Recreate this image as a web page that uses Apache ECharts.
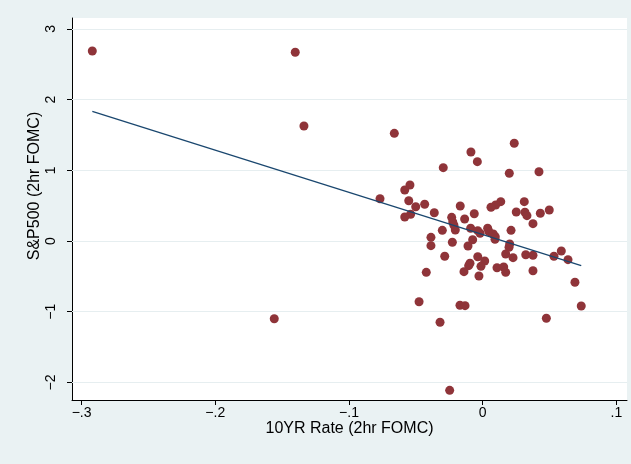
<!DOCTYPE html>
<html>
<head>
<meta charset="utf-8">
<script src="https://cdn.jsdelivr.net/npm/echarts@6/dist/echarts.min.js"></script>
<style>html,body{margin:0;padding:0;background:#EAF2F3;}#c{width:631px;height:464px;}</style>
</head>
<body>
<div id="c"></div>
<script>
// Data
var rateX = [-0.0661,0.0236,-0.0088,-0.0040,-0.0295,0.0199,0.0421,-0.0544,-0.0583,-0.0768,
-0.0553,-0.0434,-0.0501,-0.0168,0.0135,0.0097,0.0062,0.0311,0.0498,0.0431,
0.0251,0.0316,0.0331,-0.0539,-0.0583,-0.0362,-0.0063,-0.0232,-0.0135,-0.0224,
-0.0215,-0.0205,-0.0302,-0.0090,-0.0037,-0.0020,0.0037,0.0047,0.0079,0.0094,
0.0092,0.0212,0.0376,-0.0075,-0.0110,-0.0227,-0.0387,-0.0387,0.0202,0.0197,
0.0172,0.0227,-0.0037,-0.0284,0.0322,0.0376,0.0533,0.0588,0.0638,0.0015,
-0.0095,-0.0105,-0.0013,0.0107,0.0157,0.0172,-0.0140,-0.0028,-0.0422,0.0376,
0.0690,-0.0476,-0.0170,-0.0132,0.0737,-0.0319,0.0476,-0.0247,-0.2920,-0.1402,
-0.1337,-0.1559];
var spY = [1.523,1.382,1.259,1.122,1.037,0.958,0.980,0.792,0.721,0.598,
0.570,0.519,0.485,0.495,0.556,0.509,0.477,0.556,0.438,0.392,
0.410,0.406,0.358,0.378,0.339,0.400,0.386,0.335,0.311,0.269,
0.222,0.156,0.151,0.180,0.146,0.109,0.180,0.132,0.099,0.061,
0.024,0.151,0.245,0.018,-0.071,-0.018,0.052,-0.066,-0.042,-0.089,
-0.184,-0.236,-0.222,-0.216,-0.194,-0.202,-0.216,-0.141,-0.264,-0.283,
-0.315,-0.349,-0.358,-0.378,-0.368,-0.443,-0.434,-0.495,-0.443,-0.420,
-0.584,-0.859,-0.909,-0.915,-0.919,-1.150,-1.093,-2.112,2.687,2.669,
1.627,-1.099];
var fitX = [-0.2920, 0.0737];
var fitY = [1.834, -0.349];
var xTicks = [-0.3, -0.2, -0.1, 0, 0.1];
var xTickLabels = ['\u2212.3', '\u2212.2', '\u2212.1', '0', '.1'];
var yTicks = [-2, -1, 0, 1, 2, 3];
var yTickLabels = ['\u22122', '\u22121', '0', '1', '2', '3'];

var pts = rateX.map(function (x, i) { return [x, spY[i]]; });
var fitPts = fitX.map(function (x, i) { return [x, fitY[i]]; });

function lookup(vals, labels) {
  return function (v) {
    for (var i = 0; i < vals.length; i++) { if (Math.abs(vals[i] - v) < 1e-9) return labels[i]; }
    return '';
  };
}

var font = 'Liberation Sans, Arial, sans-serif';
var chart = echarts.init(document.getElementById('c'), null, { renderer: 'canvas' });
chart.setOption({
  backgroundColor: '#EAF2F3',
  animation: false,
  grid: { left: 72, right: 4, top: 18, bottom: 64, show: true, backgroundColor: '#FFFFFF', borderWidth: 0 },
  xAxis: {
    type: 'value', min: -0.30718, max: 0.10793,
    name: '10YR Rate (2hr FOMC)', nameLocation: 'middle', nameGap: 21, nameMoveOverlap: false,
    nameTextStyle: { fontFamily: font, fontSize: 16, color: '#000', verticalAlign: 'top' },
    axisLine: { show: true, onZero: false, lineStyle: { color: '#000', width: 1 } },
    axisTick: { show: true, customValues: xTicks, length: 5, lineStyle: { color: '#000' } },
    axisLabel: { customValues: xTicks, formatter: lookup(xTicks, xTickLabels), fontFamily: font, fontSize: 14, color: '#000', margin: 6 },
    splitLine: { show: false }
  },
  yAxis: {
    type: 'value', min: -2.2489, max: 3.1541,
    name: 'S&P500 (2hr FOMC)', nameLocation: 'middle', nameGap: 29, nameRotate: 90, nameMoveOverlap: false,
    nameTextStyle: { fontFamily: font, fontSize: 16, color: '#000', padding: [0, 0, 0, 46] },
    axisLine: { show: true, onZero: false, lineStyle: { color: '#000', width: 1 } },
    axisTick: { show: true, customValues: yTicks, length: 5, lineStyle: { color: '#000' } },
    axisLabel: { customValues: yTicks, formatter: lookup(yTicks, yTickLabels), rotate: 90, fontFamily: font, fontSize: 14, color: '#000', margin: 14 },
    splitLine: { show: false }
  },
  series: [
    {
      type: 'scatter', data: [], z: 1, silent: true,
      markLine: {
        silent: true, symbol: 'none', label: { show: false }, z: 1,
        lineStyle: { color: '#E6EEF0', width: 1.2, type: 'solid' },
        data: yTicks.map(function (v) { return { yAxis: v }; })
      }
    },
    {
      type: 'scatter', data: pts, symbol: 'circle', symbolSize: 9,
      itemStyle: { color: '#8F3439', opacity: 1 }, z: 3
    },
    {
      type: 'line', data: fitPts, symbol: 'none',
      lineStyle: { color: '#1A476F', width: 1.3 }, z: 4
    }
  ]
});
</script>
</body>
</html>
